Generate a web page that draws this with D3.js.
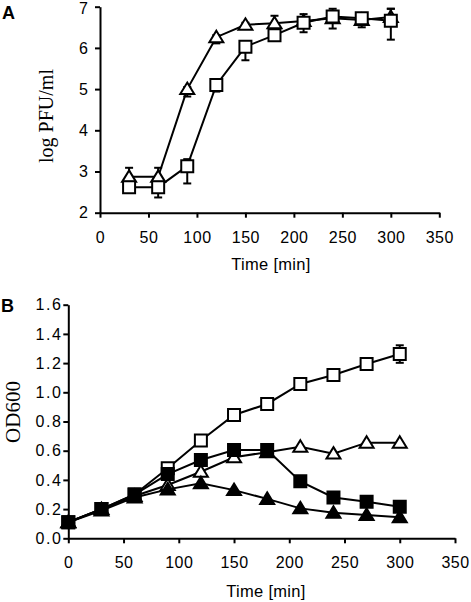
<!DOCTYPE html>
<html><head><meta charset="utf-8">
<script src="https://cdn.jsdelivr.net/npm/d3@7"></script>
<style>body{margin:0;background:#fff}</style></head>
<body><svg id="c" width="471" height="602"></svg>
<script>
// ---- Panel A data ----
const timesA = [30,60,90,120,150,180,210,240,270,300];
const triA = [2.87,2.87,5.0,6.26,6.56,6.6,6.65,6.72,6.68,6.75];
const triAUp = [0.22,0.22,0.05,0.05,0.05,0.18,0.17,0.05,0.05,0.2];
const triADown = [0.05,0.05,0.18,0.15,0.05,0.05,0.05,0.05,0.05,0.05];
const sqA = [2.62,2.62,3.13,5.1,6.03,6.31,6.61,6.76,6.72,6.66];
const sqAUp = [0.05,0.05,0.17,0.05,0.05,0.05,0.05,0.19,0.05,0.29];
const sqADown = [0.05,0.25,0.42,0.16,0.33,0.05,0.23,0.29,0.22,0.46];
const xTicks = [0,50,100,150,200,250,300,350];
const yTicksA = [2,3,4,5,6,7];

// ---- Panel B data ----
const timesB = [0,30,60,90,120,150,180,210,240,270,300];
const openSqB = [0.11,0.2,0.3,0.48,0.67,0.845,0.92,1.057,1.118,1.194,1.262];
const openSqBErr = [0,0,0,0,0,0,0,0,0,0,0.06];
const filledSqB = [0.11,0.2,0.3,0.44,0.536,0.605,0.605,0.39,0.28,0.25,0.216];
const openTriB = [0.11,0.2,0.29,0.365,0.456,0.555,0.59,0.627,0.58,0.655,0.655];
const filledTriB = [0.11,0.19,0.28,0.335,0.377,0.33,0.27,0.205,0.175,0.16,0.144];
const yTicksB = [0,0.2,0.4,0.6,0.8,1.0,1.2,1.4,1.6];

const svg = d3.select('#c');
const font = 'Liberation Sans, Arial, sans-serif';
const serif = 'Liberation Serif, Times New Roman, serif';

const triPath = 'M0,-6.5L7,5L-7,5Z';
const sqPath = 'M-6,-6H6V6H-6Z';

function drawAxes(g, x, y, yTicks, yFmt, yPad, xPad, ySpacing) {
  const ax = g.append('g').attr('transform', `translate(0,${y.range()[0]})`)
    .call(d3.axisBottom(x).tickValues(xTicks).tickSize(5).tickSizeOuter(0).tickPadding(xPad).tickFormat(d3.format('d')));
  const ay = g.append('g').attr('transform', `translate(${x.range()[0]},0)`)
    .call(d3.axisLeft(y).tickValues(yTicks).tickSize(5).tickSizeOuter(0).tickPadding(yPad).tickFormat(yFmt));
  [ax, ay].forEach(a => {
    a.selectAll('path,line').attr('stroke', '#000').attr('stroke-width', 2);
    a.selectAll('text').attr('font-family', font).attr('font-size', 16).attr('fill', '#000');
  });
  ax.selectAll('text').attr('letter-spacing', 0.5);
  ay.selectAll('text').attr('letter-spacing', ySpacing);
  return ay;
}

function drawSeries(g, x, y, times, vals, path, fill, up, down) {
  const line = d3.line().x((d,i) => x(times[i])).y(d => y(d));
  g.append('path').attr('d', line(vals)).attr('fill', 'none').attr('stroke', '#000').attr('stroke-width', 2);
  if (up) {
    vals.forEach((v,i) => {
      const u = up[i], dn = down ? down[i] : up[i];
      if (!u && !dn) return;
      const cx = x(times[i]);
      g.append('line').attr('x1', cx).attr('x2', cx).attr('y1', y(v+u)).attr('y2', y(v-dn)).attr('stroke','#000').attr('stroke-width',2);
      g.append('line').attr('x1', cx-4).attr('x2', cx+4).attr('y1', y(v+u)).attr('y2', y(v+u)).attr('stroke','#000').attr('stroke-width',2);
      g.append('line').attr('x1', cx-4).attr('x2', cx+4).attr('y1', y(v-dn)).attr('y2', y(v-dn)).attr('stroke','#000').attr('stroke-width',2);
    });
  }
  g.selectAll(null).data(vals).enter().append('path')
    .attr('d', path)
    .attr('transform', (d,i) => `translate(${x(times[i])},${y(d)})`)
    .attr('fill', fill).attr('stroke', '#000').attr('stroke-width', 2);
}

// ---- Panel A ----
const xA = d3.scaleLinear([0,350],[100,439.3]);
const yA = d3.scaleLinear([2,7],[212.7,6.7]);
const gA = svg.append('g');
const ayA = drawAxes(gA, xA, yA, yTicksA, d3.format('d'), 7, 14, 0);
ayA.selectAll('text').filter(d => d === 7).attr('dy', '0.45em');
drawSeries(gA, xA, yA, timesA, triA, triPath, '#fff', triAUp, triADown);
drawSeries(gA, xA, yA, timesA, sqA, sqPath, '#fff', sqAUp, sqADown);
gA.append('text').attr('x', 271).attr('y', 270).attr('text-anchor','middle')
  .attr('font-family', font).attr('font-size', 16.5).attr('letter-spacing', 0.3).text('Time [min]');
gA.append('text').attr('transform','translate(53,116) rotate(-90)').attr('text-anchor','middle')
  .attr('font-family', serif).attr('font-size', 20).text('log PFU/ml');
svg.append('text').attr('x', 2).attr('y', 19).attr('font-family', font).attr('font-weight','bold').attr('font-size', 18).text('A');

// ---- Panel B ----
const xB = d3.scaleLinear([0,350],[68.3,455]);
const yB = d3.scaleLinear([0,1.6],[538.3,304.7]);
const gB = svg.append('g');
drawAxes(gB, xB, yB, yTicksB, d3.format('.1f'), 1, 13.5, 1.5);
drawSeries(gB, xB, yB, timesB, openSqB, sqPath, '#fff', openSqBErr, openSqBErr);
drawSeries(gB, xB, yB, timesB, openTriB, triPath, '#fff');
drawSeries(gB, xB, yB, timesB, filledTriB, triPath, '#000');
drawSeries(gB, xB, yB, timesB, filledSqB, sqPath, '#000');
gB.append('text').attr('x', 266).attr('y', 597).attr('text-anchor','middle')
  .attr('font-family', font).attr('font-size', 16.5).attr('letter-spacing', 0.3).text('Time [min]');
gB.append('text').attr('transform','translate(20,412) rotate(-90)').attr('text-anchor','middle')
  .attr('font-family', serif).attr('font-size', 21).text('OD600');
svg.append('text').attr('x', 1).attr('y', 312).attr('font-family', font).attr('font-weight','bold').attr('font-size', 18).text('B');
</script></body></html>
